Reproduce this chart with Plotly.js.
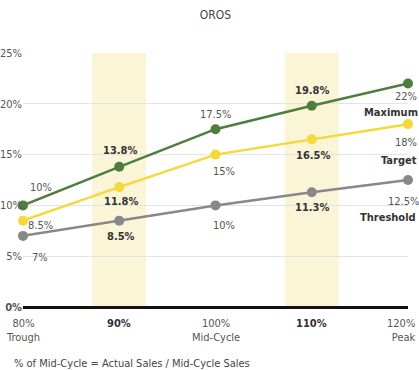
<!DOCTYPE html>
<html><head><meta charset="utf-8">
<script src="https://cdn.plot.ly/plotly-3.0.1.min.js"></script>
<style>body{margin:0;padding:0;background:#fff}#c{width:419px;height:370px}</style>
</head><body><div id="c"></div>
<script>
var xVals = [80, 90, 100, 110, 120];
var xTickText = ['80%<br>Trough', '<b>90%</b>', '100%<br>Mid-Cycle', '<b>110%</b>', '120%<br>Peak'];
var maximum = [10, 13.8, 17.5, 19.8, 22];
var target = [8.5, 11.8, 15, 16.5, 18];
var threshold = [7, 8.5, 10, 11.3, 12.5];
var seriesNames = ['Maximum', 'Target', 'Threshold'];
var highlightX = [90, 110];
var yTicks = [0, 5, 10, 15, 20, 25];

var FONT = '"DejaVu Sans Condensed", "Liberation Sans Narrow", sans-serif';
var colors = ['#4d7e3e', '#f4d93a', '#888888'];
var allSeries = [maximum, target, threshold];
// label offsets in px [dx, dy(down positive)]
var offs = [
  [[18,-18],[1,-16],[0,-15],[0,-15],[-2,13]],
  [[17,5],[2,14],[8,17],[1,16],[-2,18]],
  [[17,22],[2,16],[8,20],[0,15],[-5,21]]
];
var nameOffs = [[-17,29],[-9,36],[-20,37]];

var traces = allSeries.map(function(s, i){
  return {x: xVals, y: s, type:'scatter', mode:'lines+markers', name: seriesNames[i],
    line:{color:colors[i], width:2.5}, marker:{color:colors[i], size:10}, cliponaxis:false, hoverinfo:'none'};
});

var ann = [];
allSeries.forEach(function(s, i){
  s.forEach(function(v, j){
    var bold = highlightX.indexOf(xVals[j]) >= 0;
    var t = v + '%';
    ann.push({x: xVals[j], y: v, xref:'x', yref:'y', text: bold ? '<b>'+t+'</b>' : t, showarrow:false,
      xshift: offs[i][j][0], yshift: -offs[i][j][1], font:{family:FONT, size:11, color: bold ? '#333' : '#555'}});
  });
  var last = s.length - 1;
  ann.push({x: xVals[last], y: s[last], xref:'x', yref:'y', text:'<b>'+seriesNames[i]+'</b>', showarrow:false,
    xshift: nameOffs[i][0], yshift: -nameOffs[i][1], font:{family:FONT, size:11, color:'#333'}});
});
// x tick labels
xVals.forEach(function(xv, j){
  var isLast = j === xVals.length - 1;
  ann.push({x: xv, y: 0, xref:'x', yref:'paper', text: xTickText[j], showarrow:false, yanchor:'top',
    yshift: -8, xanchor: isLast ? 'right' : 'center', xshift: isLast ? 10 : 0, align: isLast ? 'right' : 'center',
    font:{family:FONT, size:11, color: highlightX.indexOf(xv) >= 0 ? '#333' : '#555'}});
});
ann.push({x:0, y:0, xref:'paper', yref:'paper', text:'% of Mid-Cycle = Actual Sales / Mid-Cycle Sales', showarrow:false,
  xanchor:'left', yanchor:'middle', xshift:-11, yshift:-56, font:{family:FONT, size:11, color:'#444'}});

var shapes = highlightX.map(function(h){
  return {type:'rect', xref:'x', yref:'y', x0:h-2.8, x1:h+2.8, y0:0, y1:25, fillcolor:'#fbf5d8', line:{width:0}, layer:'below'};
});

var layout = {
  width:419, height:370,
  margin:{l:23, r:11, t:53, b:63},
  paper_bgcolor:'#fff', plot_bgcolor:'#fff',
  showlegend:false,
  title:{text:'OROS', x:0.5, xref:'paper', y:0.96, yanchor:'middle', font:{family:FONT, size:12, color:'#444'}},
  xaxis:{range:[80,120], showticklabels:false, showgrid:false, zeroline:false, showline:false,
    ticks:'', fixedrange:true},
  yaxis:{range:[0,25], tickvals:yTicks, ticktext:yTicks.map(function(v){return v===0?'<b>0%</b>':v+'%';}),
    showgrid:true, gridcolor:'#e3e3e3', gridwidth:1, zeroline:true, zerolinecolor:'#111', zerolinewidth:3,
    ticks:'', tickfont:{family:FONT, size:11, color:'#555'}, fixedrange:true},
  shapes:shapes, annotations:ann
};
Plotly.newPlot('c', traces, layout, {displayModeBar:false, staticPlot:true});
</script></body></html>
